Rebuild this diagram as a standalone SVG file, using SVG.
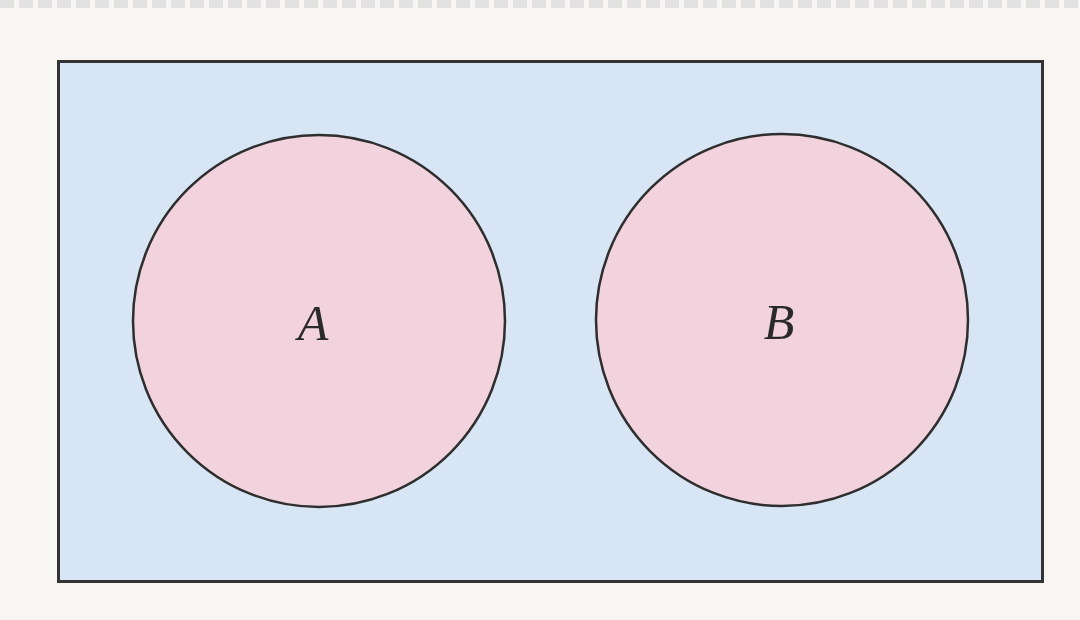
<svg xmlns="http://www.w3.org/2000/svg" width="1080" height="620" viewBox="0 0 1080 620">
<style>
.set{fill:#f2d3dd;stroke:#2e2e2e;stroke-width:2.5}
.lbl{font-family:"Liberation Serif",serif;font-style:italic;font-size:50px;fill:#2a2a2a;text-anchor:middle}
</style>
<rect x="0" y="0" width="1080" height="620" fill="#f7f6f3"/>
<line x1="0" y1="4" x2="1080" y2="4" stroke="#e2e2e2" stroke-width="8" stroke-dasharray="14 5"/>
<g id="universe">
<rect x="58.5" y="61.5" width="984" height="520" fill="#d8e5f5" stroke="#333" stroke-width="3"/>
</g>
<g id="setA">
<circle class="set" cx="319" cy="321" r="186"/>
<text class="lbl" x="313" y="340">A</text>
</g>
<g id="setB">
<circle class="set" cx="782" cy="320" r="186"/>
<text class="lbl" x="779" y="339">B</text>
</g>
<g id="connectors"/>
</svg>
